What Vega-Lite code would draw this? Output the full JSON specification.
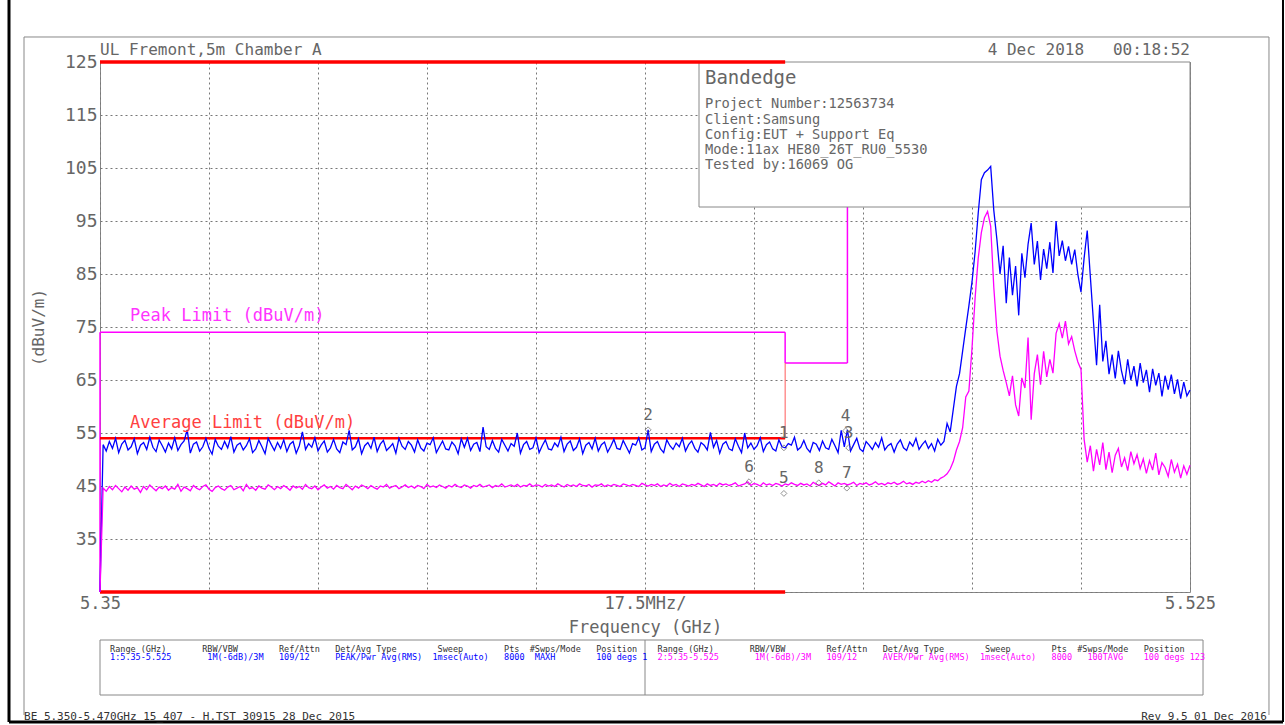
{
"$schema": "https://vega.github.io/schema/vega-lite/v6.json",
"width": 1090, "height": 530,
"autosize": "none",
"padding": {"left": 100, "top": 62, "right": 95, "bottom": 133},
"background": "white",
"config": {"font": "DejaVu Sans Mono", "view": {"stroke": "#888", "strokeWidth": 1}},
"datasets": {
"one": [{"k": 1}],
"trace": [
{"f":5.35,"p":25,"a":25},
{"f":5.3505,"p":52.8,"a":44.6},{"f":5.351,"p":51.6,"a":44.0},{"f":5.3515,"p":53.4,"a":44.9},{"f":5.352,"p":52.1,"a":44.3},{"f":5.3525,"p":54.0,"a":45.1},{"f":5.353,"p":51.3,"a":44.5},{"f":5.3535,"p":52.9,"a":43.9},{"f":5.354,"p":53.6,"a":44.8},{"f":5.3545,"p":51.8,"a":44.2},{"f":5.355,"p":52.4,"a":45.0},
{"f":5.3555,"p":53.9,"a":44.4},{"f":5.356,"p":51.1,"a":44.7},{"f":5.3565,"p":52.7,"a":43.8},{"f":5.357,"p":53.2,"a":44.9},{"f":5.3575,"p":51.9,"a":44.3},{"f":5.358,"p":54.2,"a":45.2},{"f":5.3585,"p":52.3,"a":44.6},{"f":5.359,"p":51.5,"a":44.1},{"f":5.3595,"p":53.7,"a":44.8},{"f":5.36,"p":52.6,"a":44.5},
{"f":5.3605,"p":51.4,"a":45.0},{"f":5.361,"p":53.1,"a":44.2},{"f":5.3615,"p":52.0,"a":44.7},{"f":5.362,"p":54.1,"a":44.4},{"f":5.3625,"p":51.7,"a":45.3},{"f":5.363,"p":52.8,"a":44.0},{"f":5.3635,"p":53.5,"a":44.8},{"f":5.364,"p":55.6,"a":44.5},{"f":5.3645,"p":51.2,"a":44.1},{"f":5.365,"p":52.9,"a":45.1},
{"f":5.3655,"p":53.3,"a":44.6},{"f":5.366,"p":51.6,"a":44.3},{"f":5.3665,"p":52.4,"a":44.9},{"f":5.367,"p":54.0,"a":45.2},{"f":5.3675,"p":52.1,"a":44.4},{"f":5.368,"p":51.0,"a":44.0},{"f":5.3685,"p":53.8,"a":44.7},{"f":5.369,"p":52.5,"a":45.0},{"f":5.3695,"p":51.9,"a":44.5},{"f":5.37,"p":53.4,"a":44.2},
{"f":5.3705,"p":52.2,"a":44.8},{"f":5.371,"p":54.3,"a":45.1},{"f":5.3715,"p":51.4,"a":44.3},{"f":5.372,"p":52.7,"a":44.6},{"f":5.3725,"p":53.1,"a":44.9},{"f":5.373,"p":51.8,"a":44.1},{"f":5.3735,"p":52.6,"a":45.3},{"f":5.374,"p":53.9,"a":44.5},{"f":5.3745,"p":51.3,"a":44.7},{"f":5.375,"p":52.0,"a":44.2},
{"f":5.3755,"p":53.6,"a":45.0},{"f":5.376,"p":52.4,"a":44.6},{"f":5.3765,"p":51.1,"a":44.4},{"f":5.377,"p":54.0,"a":45.2},{"f":5.3775,"p":52.8,"a":44.8},{"f":5.378,"p":51.7,"a":44.3},{"f":5.3785,"p":53.2,"a":44.9},{"f":5.379,"p":52.1,"a":44.5},{"f":5.3795,"p":53.7,"a":45.1},{"f":5.38,"p":51.5,"a":44.7},
{"f":5.3805,"p":52.9,"a":44.2},{"f":5.381,"p":53.4,"a":45.0},{"f":5.3815,"p":51.2,"a":44.6},{"f":5.382,"p":52.6,"a":44.9},{"f":5.3825,"p":55.2,"a":44.4},{"f":5.383,"p":51.9,"a":45.3},{"f":5.3835,"p":53.0,"a":44.7},{"f":5.384,"p":52.3,"a":44.5},{"f":5.3845,"p":54.1,"a":45.0},{"f":5.385,"p":51.6,"a":44.3},
{"f":5.3855,"p":52.7,"a":44.8},{"f":5.386,"p":53.5,"a":45.2},{"f":5.3865,"p":51.4,"a":44.6},{"f":5.387,"p":52.2,"a":44.9},{"f":5.3875,"p":53.8,"a":44.4},{"f":5.388,"p":52.0,"a":45.1},{"f":5.3885,"p":51.3,"a":44.7},{"f":5.389,"p":53.3,"a":44.5},{"f":5.3895,"p":52.8,"a":45.3},{"f":5.39,"p":55.5,"a":44.8},
{"f":5.3905,"p":51.8,"a":44.3},{"f":5.391,"p":52.4,"a":45.0},{"f":5.3915,"p":53.9,"a":44.6},{"f":5.392,"p":51.1,"a":45.2},{"f":5.3925,"p":52.6,"a":44.9},{"f":5.393,"p":53.2,"a":44.5},{"f":5.3935,"p":52.1,"a":45.1},{"f":5.394,"p":54.2,"a":44.7},{"f":5.3945,"p":51.5,"a":44.4},{"f":5.395,"p":52.9,"a":45.0},
{"f":5.3955,"p":53.6,"a":44.8},{"f":5.396,"p":51.7,"a":45.3},{"f":5.3965,"p":52.3,"a":44.6},{"f":5.397,"p":53.0,"a":44.9},{"f":5.3975,"p":51.2,"a":45.1},{"f":5.398,"p":54.0,"a":44.5},{"f":5.3985,"p":52.5,"a":44.8},{"f":5.399,"p":51.9,"a":45.2},{"f":5.3995,"p":53.4,"a":44.7},{"f":5.4,"p":52.7,"a":45.0},
{"f":5.4005,"p":51.4,"a":44.6},{"f":5.401,"p":53.7,"a":45.1},{"f":5.4015,"p":52.2,"a":44.9},{"f":5.402,"p":51.6,"a":44.5},{"f":5.4025,"p":53.1,"a":45.3},{"f":5.403,"p":52.8,"a":44.8},{"f":5.4035,"p":54.1,"a":45.0},{"f":5.404,"p":51.3,"a":44.7},{"f":5.4045,"p":52.4,"a":45.2},{"f":5.405,"p":53.5,"a":44.9},
{"f":5.4055,"p":52.0,"a":44.6},{"f":5.406,"p":51.8,"a":45.1},{"f":5.4065,"p":53.3,"a":44.8},{"f":5.407,"p":52.6,"a":45.3},{"f":5.4075,"p":51.1,"a":44.9},{"f":5.408,"p":53.9,"a":44.7},{"f":5.4085,"p":52.3,"a":45.2},{"f":5.409,"p":54.0,"a":45.0},{"f":5.4095,"p":51.7,"a":44.6},{"f":5.41,"p":52.9,"a":45.1},
{"f":5.4105,"p":53.2,"a":44.9},{"f":5.411,"p":51.5,"a":45.3},{"f":5.4115,"p":56.1,"a":44.8},{"f":5.412,"p":52.4,"a":45.0},{"f":5.4125,"p":51.9,"a":45.2},{"f":5.413,"p":53.6,"a":44.7},{"f":5.4135,"p":52.1,"a":45.1},{"f":5.414,"p":51.4,"a":44.9},{"f":5.4145,"p":53.8,"a":45.4},{"f":5.415,"p":52.7,"a":44.8},
{"f":5.4155,"p":51.6,"a":45.0},{"f":5.416,"p":53.0,"a":45.2},{"f":5.4165,"p":52.5,"a":44.9},{"f":5.417,"p":55.0,"a":45.3},{"f":5.4175,"p":51.2,"a":44.8},{"f":5.418,"p":52.8,"a":45.1},{"f":5.4185,"p":53.4,"a":45.0},{"f":5.419,"p":51.9,"a":45.4},{"f":5.4195,"p":52.2,"a":44.9},{"f":5.42,"p":54.1,"a":45.2},
{"f":5.4205,"p":51.3,"a":45.1},{"f":5.421,"p":52.6,"a":44.8},{"f":5.4215,"p":53.7,"a":45.3},{"f":5.422,"p":52.0,"a":45.0},{"f":5.4225,"p":51.8,"a":45.2},{"f":5.423,"p":53.1,"a":44.9},{"f":5.4235,"p":52.4,"a":45.4},{"f":5.424,"p":54.2,"a":45.1},{"f":5.4245,"p":51.5,"a":44.8},{"f":5.425,"p":52.9,"a":45.3},
{"f":5.4255,"p":53.5,"a":45.0},{"f":5.426,"p":51.7,"a":45.2},{"f":5.4265,"p":52.3,"a":44.9},{"f":5.427,"p":53.9,"a":45.4},{"f":5.4275,"p":51.1,"a":45.1},{"f":5.428,"p":52.7,"a":45.0},{"f":5.4285,"p":53.2,"a":45.3},{"f":5.429,"p":52.0,"a":44.8},{"f":5.4295,"p":54.0,"a":45.2},{"f":5.43,"p":51.6,"a":45.1},
{"f":5.4305,"p":52.8,"a":45.4},{"f":5.431,"p":53.3,"a":44.9},{"f":5.4315,"p":51.4,"a":45.2},{"f":5.432,"p":52.5,"a":45.0},{"f":5.4325,"p":53.8,"a":45.3},{"f":5.433,"p":52.1,"a":45.1},{"f":5.4335,"p":51.9,"a":44.9},{"f":5.434,"p":53.6,"a":45.4},{"f":5.4345,"p":52.4,"a":45.2},{"f":5.435,"p":51.2,"a":45.0},
{"f":5.4355,"p":53.0,"a":45.3},{"f":5.436,"p":52.7,"a":45.1},{"f":5.4365,"p":54.1,"a":44.9},{"f":5.437,"p":51.8,"a":45.5},{"f":5.4375,"p":52.2,"a":45.2},{"f":5.438,"p":55.6,"a":45.0},{"f":5.4385,"p":51.5,"a":45.3},{"f":5.439,"p":52.9,"a":45.1},{"f":5.4395,"p":53.4,"a":45.4},{"f":5.44,"p":52.0,"a":44.9},
{"f":5.4405,"p":51.3,"a":45.2},{"f":5.441,"p":53.7,"a":45.0},{"f":5.4415,"p":52.6,"a":45.5},{"f":5.442,"p":51.9,"a":45.1},{"f":5.4425,"p":53.1,"a":45.3},{"f":5.443,"p":52.4,"a":44.9},{"f":5.4435,"p":54.0,"a":45.4},{"f":5.444,"p":51.6,"a":45.2},{"f":5.4445,"p":52.8,"a":45.0},{"f":5.445,"p":53.5,"a":45.3},
{"f":5.4455,"p":52.1,"a":45.1},{"f":5.446,"p":51.4,"a":45.5},{"f":5.4465,"p":53.2,"a":45.2},{"f":5.447,"p":52.7,"a":44.9},{"f":5.4475,"p":51.8,"a":45.4},{"f":5.448,"p":55.1,"a":45.1},{"f":5.4485,"p":52.3,"a":45.3},{"f":5.449,"p":53.6,"a":45.0},{"f":5.4495,"p":51.2,"a":45.5},{"f":5.45,"p":52.9,"a":45.2},
{"f":5.4505,"p":53.4,"a":45.4},{"f":5.451,"p":52.0,"a":45.1},{"f":5.4515,"p":51.7,"a":45.3},{"f":5.452,"p":53.9,"a":45.6},{"f":5.4525,"p":52.5,"a":45.0},{"f":5.453,"p":51.3,"a":45.2},{"f":5.4535,"p":55.0,"a":45.4},{"f":5.454,"p":52.2,"a":45.8},{"f":5.4545,"p":53.1,"a":45.1},{"f":5.455,"p":51.9,"a":45.5},
{"f":5.4555,"p":52.6,"a":45.3},{"f":5.456,"p":54.1,"a":45.0},{"f":5.4565,"p":51.5,"a":45.6},{"f":5.457,"p":52.8,"a":45.2},{"f":5.4575,"p":53.3,"a":45.4},{"f":5.458,"p":52.0,"a":45.1},{"f":5.4585,"p":51.6,"a":45.5},{"f":5.459,"p":53.7,"a":45.3},{"f":5.4595,"p":52.4,"a":45.0},{"f":5.46,"p":52.2,"a":45.4},
{"f":5.4605,"p":53.0,"a":45.2},{"f":5.461,"p":52.7,"a":45.6},{"f":5.4615,"p":54.2,"a":45.3},{"f":5.462,"p":51.8,"a":45.1},{"f":5.4625,"p":52.3,"a":45.5},{"f":5.463,"p":53.6,"a":45.2},{"f":5.4635,"p":52.1,"a":45.4},{"f":5.464,"p":51.4,"a":45.0},{"f":5.4645,"p":53.2,"a":45.7},{"f":5.465,"p":52.9,"a":45.3},
{"f":5.4655,"p":51.7,"a":45.1},{"f":5.466,"p":53.5,"a":45.5},{"f":5.4665,"p":52.2,"a":45.2},{"f":5.467,"p":51.9,"a":45.8},{"f":5.4675,"p":53.8,"a":45.4},{"f":5.468,"p":52.6,"a":45.0},{"f":5.4685,"p":51.3,"a":45.6},{"f":5.469,"p":55.5,"a":45.3},{"f":5.4695,"p":52.4,"a":45.5},{"f":5.47,"p":55.6,"a":45.2},
{"f":5.4705,"p":51.6,"a":45.4},{"f":5.471,"p":52.8,"a":45.7},{"f":5.4715,"p":54.0,"a":45.1},{"f":5.472,"p":52.0,"a":45.5},{"f":5.4725,"p":51.5,"a":45.3},{"f":5.473,"p":53.4,"a":45.6},{"f":5.4735,"p":52.7,"a":45.2},{"f":5.474,"p":51.9,"a":45.4},{"f":5.4745,"p":53.2,"a":45.8},{"f":5.475,"p":52.3,"a":45.3},
{"f":5.4755,"p":54.1,"a":45.5},{"f":5.476,"p":51.8,"a":45.2},{"f":5.4765,"p":52.6,"a":45.6},{"f":5.477,"p":53.0,"a":45.4},{"f":5.4775,"p":51.4,"a":45.7},{"f":5.478,"p":52.9,"a":45.3},{"f":5.4785,"p":53.7,"a":45.5},{"f":5.479,"p":52.2,"a":45.9},{"f":5.4795,"p":51.7,"a":45.4},{"f":5.48,"p":53.3,"a":45.6},
{"f":5.4805,"p":52.5,"a":45.3},{"f":5.481,"p":54.0,"a":45.7},{"f":5.4815,"p":51.9,"a":45.5},{"f":5.482,"p":52.8,"a":45.9},{"f":5.4825,"p":53.5,"a":45.6},{"f":5.483,"p":52.1,"a":46.0},{"f":5.4835,"p":53.0,"a":45.7},{"f":5.484,"p":51.6,"a":46.2},{"f":5.4845,"p":53.8,"a":46.0},{"f":5.485,"p":52.7,"a":46.5},
{"f":5.4855,"p":53.4,"a":46.8},{"f":5.486,"p":56.8,"a":47.3},{"f":5.4865,"p":55.2,"a":48.2},{"f":5.487,"p":59.5,"a":49.6},{"f":5.4875,"p":63.8,"a":51.8},{"f":5.488,"p":66.2,"a":53.4},{"f":5.4885,"p":70.5,"a":56.0},{"f":5.489,"p":74.8,"a":61.8},{"f":5.4895,"p":79.0,"a":62.9},{"f":5.49,"p":83.5,"a":71.0},
{"f":5.4905,"p":89.2,"a":80.5},{"f":5.491,"p":96.5,"a":88.0},{"f":5.4915,"p":102.8,"a":92.8},{"f":5.492,"p":104.1,"a":95.6},{"f":5.4925,"p":104.6,"a":96.8},{"f":5.493,"p":105.3,"a":94.0},{"f":5.4935,"p":97.0,"a":82.5},{"f":5.494,"p":91.5,"a":74.2},{"f":5.4945,"p":85.0,"a":69.5},{"f":5.495,"p":90.3,"a":66.8},
{"f":5.4955,"p":79.5,"a":64.5},{"f":5.496,"p":88.1,"a":62.0},{"f":5.4965,"p":81.0,"a":65.8},{"f":5.497,"p":86.5,"a":60.3},{"f":5.4975,"p":77.2,"a":58.2},{"f":5.498,"p":88.9,"a":65.4},{"f":5.4985,"p":84.3,"a":63.5},{"f":5.499,"p":90.6,"a":73.0},{"f":5.4995,"p":94.6,"a":57.5},{"f":5.5,"p":86.8,"a":66.2},
{"f":5.5005,"p":91.2,"a":69.8},{"f":5.501,"p":83.9,"a":64.1},{"f":5.5015,"p":89.7,"a":70.4},{"f":5.502,"p":86.0,"a":65.6},{"f":5.5025,"p":91.0,"a":68.9},{"f":5.503,"p":85.2,"a":66.3},{"f":5.5035,"p":95.0,"a":73.8},{"f":5.504,"p":88.4,"a":75.6},{"f":5.5045,"p":91.3,"a":72.9},{"f":5.505,"p":87.5,"a":76.1},
{"f":5.5055,"p":90.2,"a":71.8},{"f":5.506,"p":86.8,"a":73.2},{"f":5.5065,"p":89.6,"a":70.5},{"f":5.507,"p":84.9,"a":68.4},{"f":5.5075,"p":81.6,"a":67.0},{"f":5.508,"p":88.0,"a":53.8},{"f":5.5085,"p":93.2,"a":49.5},{"f":5.509,"p":84.5,"a":52.6},{"f":5.5095,"p":76.0,"a":47.8},{"f":5.51,"p":67.8,"a":51.9},
{"f":5.5105,"p":79.2,"a":49.0},{"f":5.511,"p":68.5,"a":53.2},{"f":5.5115,"p":72.4,"a":48.1},{"f":5.512,"p":66.1,"a":51.4},{"f":5.5125,"p":69.8,"a":47.5},{"f":5.513,"p":65.3,"a":50.8},{"f":5.5135,"p":70.5,"a":52.1},{"f":5.514,"p":66.7,"a":48.6},{"f":5.5145,"p":64.2,"a":50.3},{"f":5.515,"p":68.9,"a":47.9},
{"f":5.5155,"p":65.0,"a":51.5},{"f":5.516,"p":67.6,"a":49.2},{"f":5.5165,"p":63.8,"a":50.9},{"f":5.517,"p":68.2,"a":48.3},{"f":5.5175,"p":64.5,"a":50.1},{"f":5.518,"p":66.9,"a":47.4},{"f":5.5185,"p":62.7,"a":49.8},{"f":5.519,"p":67.1,"a":48.0},{"f":5.5195,"p":64.0,"a":51.2},{"f":5.52,"p":66.3,"a":47.1},
{"f":5.5205,"p":61.9,"a":49.4},{"f":5.521,"p":65.8,"a":48.5},{"f":5.5215,"p":63.2,"a":46.8},{"f":5.522,"p":66.0,"a":50.0},{"f":5.5225,"p":62.4,"a":47.6},{"f":5.523,"p":65.1,"a":49.1},{"f":5.5235,"p":61.5,"a":46.5},{"f":5.524,"p":64.6,"a":48.8},{"f":5.5245,"p":62.0,"a":47.2},{"f":5.525,"p":63.1,"a":48.9}
],
"peaklim": [{"f":5.35,"f2":5.35,"v":25,"v2":74},{"f":5.35,"f2":5.46,"v":74,"v2":74},{"f":5.46,"f2":5.46,"v":74,"v2":68.2},{"f":5.46,"f2":5.47,"v":68.2,"v2":68.2},{"f":5.47,"f2":5.47,"v":68.2,"v2":125}],
"avglim": [{"f":5.35,"f2":5.46,"v":54}],
"markers": [{"m":"1","f":5.4598,"v":52.2},{"m":"2","f":5.438,"v":55.6},{"m":"3","f":5.4702,"v":52.2},{"m":"4","f":5.4697,"v":55.4},{"m":"5","f":5.4598,"v":43.6},{"m":"6","f":5.4542,"v":45.8},{"m":"7","f":5.4699,"v":44.6},{"m":"8","f":5.4654,"v":45.6}]
},
"layer": [
{"data": {"name": "one"}, "mark": {"type": "rule", "color": "#888", "strokeWidth": 1}, "encoding": {"x": {"datum": 5.3378}, "x2": {"datum": 5.53768}, "y": {"datum": 129.717}}},
{"data": {"name": "one"}, "mark": {"type": "rule", "color": "#888", "strokeWidth": 1}, "encoding": {"x": {"datum": 5.3378}, "y": {"datum": 129.717}, "y2": {"datum": 1.792}}},
{"data": {"name": "one"}, "mark": {"type": "rule", "color": "#888", "strokeWidth": 1}, "encoding": {"x": {"datum": 5.53768}, "y": {"datum": 129.717}, "y2": {"datum": 1.792}}},
{"data": {"name": "one"}, "mark": {"type": "rule", "color": "#000", "strokeWidth": 3}, "encoding": {"x": {"datum": 5.33539}, "y": {"datum": 136.7}, "y2": {"datum": 0.472}}},
{"data": {"name": "one"}, "mark": {"type": "rule", "color": "#000", "strokeWidth": 3}, "encoding": {"x": {"datum": 5.33539}, "x2": {"datum": 5.53993}, "y": {"datum": 0.472}}},
{"data": {"name": "one"}, "mark": {"type": "rule", "color": "#000", "strokeWidth": 2}, "encoding": {"x": {"datum": 5.53993}, "y": {"datum": 136.7}, "y2": {"datum": 0.472}}},
{"data": {"name": "one"}, "mark": {"type": "rect", "fill": "white", "stroke": "#888", "strokeWidth": 1}, "encoding": {"x": {"datum": 5.35}, "x2": {"datum": 5.52709}, "y": {"datum": 15.943}, "y2": {"datum": 5.566}}},
{"data": {"name": "one"}, "mark": {"type": "rule", "color": "#888", "strokeWidth": 1}, "encoding": {"x": {"datum": 5.4375}, "y": {"datum": 15.943}, "y2": {"datum": 5.566}}},
{"data": {"name": "peaklim"}, "mark": {"type": "rule", "color": "#ff00ff", "strokeWidth": 1.5},
 "encoding": {"x": {"field": "f", "type": "quantitative"}, "x2": {"field": "f2"}, "y": {"field": "v", "type": "quantitative"}, "y2": {"field": "v2"}}},
{"data": {"name": "one"}, "mark": {"type": "rule", "color": "#ff5a5a", "strokeWidth": 1}, "encoding": {"x": {"datum": 5.46}, "y": {"datum": 54}, "y2": {"datum": 68.2}}},
{"data": {"name": "avglim"}, "mark": {"type": "rule", "color": "#ff0000", "strokeWidth": 2.5},
 "encoding": {"x": {"field": "f", "type": "quantitative"}, "x2": {"field": "f2"}, "y": {"field": "v", "type": "quantitative"}}},
{"data": {"name": "one"}, "mark": {"type": "rect", "fill": "white", "stroke": "#888", "strokeWidth": 1}, "encoding": {"x": {"datum": 5.44617}, "x2": {"datum": 5.525}, "y": {"datum": 125}, "y2": {"datum": 97.64}}},
{"data": {"name": "one"}, "mark": {"type": "rule", "color": "#ff0000", "strokeWidth": 3.5}, "encoding": {"x": {"datum": 5.35}, "x2": {"datum": 5.46}, "y": {"datum": 125}}},
{"data": {"name": "one"}, "mark": {"type": "rule", "color": "#ff0000", "strokeWidth": 3.5}, "encoding": {"x": {"datum": 5.35}, "x2": {"datum": 5.46}, "y": {"datum": 25}}},
{"data": {"name": "trace"}, "mark": {"type": "line", "color": "#0000ff", "strokeWidth": 1.3},
 "encoding": {
  "x": {"field": "f", "type": "quantitative", "scale": {"domain": [5.35, 5.525], "nice": false, "zero": false},
   "axis": {"title": "Frequency (GHz)", "values": [5.35, 5.3675, 5.385, 5.4025, 5.42, 5.4375, 5.455, 5.4725, 5.49, 5.5075, 5.525],
    "labelExpr": "datum.value < 5.351 ? '5.35' : (abs(datum.value - 5.4375) < 0.0001 ? '17.5MHz/' : (datum.value > 5.524 ? '5.525' : ''))",
    "labelFontSize": 17, "labelColor": "#666", "labelPadding": 3, "labelFlush": false, "labelOverlap": false, "labelBound": false,
    "ticks": false, "domain": false, "grid": true, "gridColor": "#777", "gridDash": [2, 3], "gridOpacity": 1, "gridWidth": 1,
    "titleFontSize": 17, "titleColor": "#666", "titleFontWeight": "normal", "titlePadding": 8}},
  "y": {"field": "p", "type": "quantitative", "scale": {"domain": [25, 125], "nice": false, "zero": false},
   "axis": {"title": "(dBuV/m)", "values": [25, 35, 45, 55, 65, 75, 85, 95, 105, 115, 125],
    "labelExpr": "datum.value < 30 ? '' : datum.label",
    "labelFontSize": 18, "labelColor": "#666", "labelPadding": 3, "labelFlush": false, "labelOverlap": false,
    "ticks": false, "domain": false, "grid": true, "gridColor": "#777", "gridDash": [2, 3], "gridOpacity": 1, "gridWidth": 1,
    "titleFontSize": 16, "titleColor": "#666", "titleFontWeight": "normal", "titlePadding": 18}}}},
{"data": {"name": "trace"}, "mark": {"type": "line", "color": "#ff00ff", "strokeWidth": 1.3},
 "encoding": {"x": {"field": "f", "type": "quantitative"}, "y": {"field": "a", "type": "quantitative"}}},
{"data": {"name": "markers"}, "mark": {"type": "point", "shape": "diamond", "filled": false, "color": "#666", "strokeWidth": 1, "size": 35},
 "encoding": {"x": {"field": "f", "type": "quantitative"}, "y": {"field": "v", "type": "quantitative"}}},
{"data": {"name": "markers"}, "mark": {"type": "text", "fontSize": 16, "color": "#666", "dy": -15},
 "encoding": {"x": {"field": "f", "type": "quantitative"}, "y": {"field": "v", "type": "quantitative"}, "text": {"field": "m", "type": "nominal"}}},
{"data": {"name": "one"}, "mark": {"type": "text", "text": "UL Fremont,5m Chamber A", "align": "left", "baseline": "middle", "fontSize": 16, "color": "#666"}, "encoding": {"x": {"datum": 5.35}, "y": {"datum": 127.264}}},
{"data": {"name": "one"}, "mark": {"type": "text", "text": "4 Dec 2018\u00a0\u00a0\u00a000:18:52", "align": "right", "baseline": "middle", "fontSize": 16, "color": "#666"}, "encoding": {"x": {"datum": 5.525}, "y": {"datum": 127.264}}},
{"data": {"name": "one"}, "mark": {"type": "text", "text": "Bandedge", "align": "left", "baseline": "middle", "fontSize": 19, "color": "#666"}, "encoding": {"x": {"datum": 5.44713}, "y": {"datum": 121.98}}},
{"data": {"name": "one"}, "mark": {"type": "text", "text": "Project Number:12563734", "align": "left", "baseline": "middle", "fontSize": 13.7, "color": "#666"}, "encoding": {"x": {"datum": 5.44713}, "y": {"datum": 117.08}}},
{"data": {"name": "one"}, "mark": {"type": "text", "text": "Client:Samsung", "align": "left", "baseline": "middle", "fontSize": 13.7, "color": "#666"}, "encoding": {"x": {"datum": 5.44713}, "y": {"datum": 114.06}}},
{"data": {"name": "one"}, "mark": {"type": "text", "text": "Config:EUT + Support Eq", "align": "left", "baseline": "middle", "fontSize": 13.7, "color": "#666"}, "encoding": {"x": {"datum": 5.44713}, "y": {"datum": 111.23}}},
{"data": {"name": "one"}, "mark": {"type": "text", "text": "Mode:11ax HE80_26T_RU0_5530", "align": "left", "baseline": "middle", "fontSize": 13.7, "color": "#666"}, "encoding": {"x": {"datum": 5.44713}, "y": {"datum": 108.4}}},
{"data": {"name": "one"}, "mark": {"type": "text", "text": "Tested by:16069 OG", "align": "left", "baseline": "middle", "fontSize": 13.7, "color": "#666"}, "encoding": {"x": {"datum": 5.44713}, "y": {"datum": 105.57}}},
{"data": {"name": "one"}, "mark": {"type": "text", "text": "Peak Limit (dBuV/m)", "align": "left", "baseline": "middle", "fontSize": 17, "color": "#ff33ff"}, "encoding": {"x": {"datum": 5.35482}, "y": {"datum": 77.08}}},
{"data": {"name": "one"}, "mark": {"type": "text", "text": "Average Limit (dBuV/m)", "align": "left", "baseline": "middle", "fontSize": 17, "color": "#ff4040"}, "encoding": {"x": {"datum": 5.35482}, "y": {"datum": 56.89}}},
{"data": {"name": "one"}, "mark": {"type": "text", "text": "Range (GHz)\u00a0\u00a0\u00a0\u00a0\u00a0\u00a0\u00a0RBW/VBW\u00a0\u00a0\u00a0\u00a0\u00a0\u00a0\u00a0\u00a0Ref/Attn\u00a0\u00a0\u00a0Det/Avg Type\u00a0\u00a0\u00a0\u00a0\u00a0\u00a0\u00a0\u00a0Sweep\u00a0\u00a0\u00a0\u00a0\u00a0\u00a0\u00a0\u00a0Pts\u00a0\u00a0#Swps/Mode\u00a0\u00a0\u00a0Position", "align": "left", "baseline": "middle", "fontSize": 8.5, "color": "#333"}, "encoding": {"x": {"datum": 5.35161}, "y": {"datum": 14.245}}},
{"data": {"name": "one"}, "mark": {"type": "text", "text": "1:5.35-5.525\u00a0\u00a0\u00a0\u00a0\u00a0\u00a0\u00a01M(-6dB)/3M\u00a0\u00a0\u00a0109/12\u00a0\u00a0\u00a0\u00a0\u00a0PEAK/Pwr Avg(RMS)\u00a0\u00a01msec(Auto)\u00a0\u00a0\u00a08000\u00a0\u00a0MAXH\u00a0\u00a0\u00a0\u00a0\u00a0\u00a0\u00a0\u00a0100 degs 1", "align": "left", "baseline": "middle", "fontSize": 8.5, "color": "#0000ff"}, "encoding": {"x": {"datum": 5.35161}, "y": {"datum": 12.736}}},
{"data": {"name": "one"}, "mark": {"type": "text", "text": "Range (GHz)\u00a0\u00a0\u00a0\u00a0\u00a0\u00a0\u00a0RBW/VBW\u00a0\u00a0\u00a0\u00a0\u00a0\u00a0\u00a0\u00a0Ref/Attn\u00a0\u00a0\u00a0Det/Avg Type\u00a0\u00a0\u00a0\u00a0\u00a0\u00a0\u00a0\u00a0Sweep\u00a0\u00a0\u00a0\u00a0\u00a0\u00a0\u00a0\u00a0Pts\u00a0\u00a0#Swps/Mode\u00a0\u00a0\u00a0Position", "align": "left", "baseline": "middle", "fontSize": 8.5, "color": "#333"}, "encoding": {"x": {"datum": 5.43951}, "y": {"datum": 14.245}}},
{"data": {"name": "one"}, "mark": {"type": "text", "text": "2:5.35-5.525\u00a0\u00a0\u00a0\u00a0\u00a0\u00a0\u00a01M(-6dB)/3M\u00a0\u00a0\u00a0109/12\u00a0\u00a0\u00a0\u00a0\u00a0AVER/Pwr Avg(RMS)\u00a0\u00a01msec(Auto)\u00a0\u00a0\u00a08000\u00a0\u00a0\u00a0100TAVG\u00a0\u00a0\u00a0\u00a0100 degs 123", "align": "left", "baseline": "middle", "fontSize": 8.5, "color": "#ff00ff"}, "encoding": {"x": {"datum": 5.43951}, "y": {"datum": 12.736}}},
{"data": {"name": "one"}, "mark": {"type": "text", "text": "BE 5.350-5.470GHz 15_407 - H.TST 30915 28 Dec 2015", "align": "left", "baseline": "middle", "fontSize": 11, "color": "#333"}, "encoding": {"x": {"datum": 5.3378}, "y": {"datum": 1.415}}},
{"data": {"name": "one"}, "mark": {"type": "text", "text": "Rev 9.5 01 Dec 2016", "align": "right", "baseline": "middle", "fontSize": 11, "color": "#333"}, "encoding": {"x": {"datum": 5.53736}, "y": {"datum": 1.415}}}
]
}
